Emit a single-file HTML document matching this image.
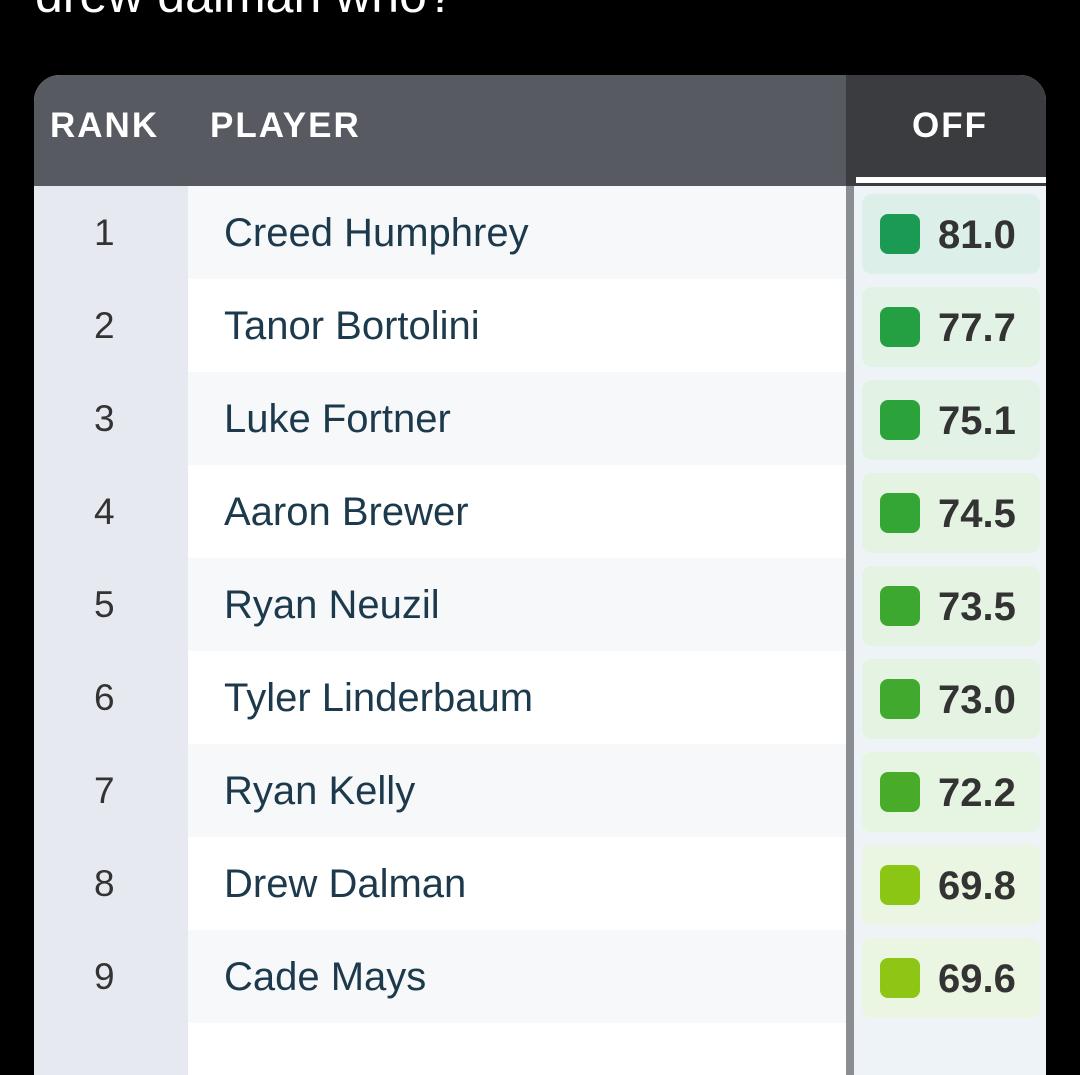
<!DOCTYPE html>
<html><head><meta charset="utf-8"><style>
body{margin:0;width:1080px;height:1024px;background:#000;overflow:hidden;position:relative;font-family:"Liberation Sans",sans-serif}
.t{position:absolute;left:35px;top:-34px;color:#fff;font-size:50px;white-space:nowrap}
.card{position:absolute;left:34px;top:75px;width:1012px;height:1000px;border-radius:26px 26px 0 0;overflow:hidden;background:#fff}
.hd{position:absolute;left:0;top:0;width:812px;height:111px;background:#575a61}
.hd2{position:absolute;left:820px;top:0;width:192px;height:111px;background:#3b3c3f}
.div{position:absolute;left:812px;top:111px;width:8px;height:900px;background:#8a8d92}
.div2{position:absolute;left:812px;top:0;width:8px;height:111px;background:#3b3c3f}
.ul{position:absolute;left:822px;top:102px;width:190px;height:6px;background:#fff}
.h{position:absolute;top:31px;color:#fff;font-weight:bold;font-size:35px;letter-spacing:2px}
.row{position:absolute;left:0;width:812px;height:93px}
.rk{position:absolute;left:0;top:0;width:154px;height:100%;background:#e6e9ef;color:#333;font-size:37px;line-height:93px}
.rk span{position:absolute;left:60px}
.nm{position:absolute;left:190px;top:1px;line-height:93px;font-size:40px;color:#1d3a4c}
.oc{position:absolute;left:820px;top:111px;width:192px;height:900px;background:#eef3f8}
.p{position:absolute;left:828px;width:178px;height:80px;border-radius:10px}
.sq{position:absolute;left:18px;top:20px;width:40px;height:40px;border-radius:8px}
.v{position:absolute;left:76px;top:0;line-height:82px;font-size:40px;font-weight:bold;color:#333}
</style></head><body>
<div class="t">drew dalman who?</div>
<div class="card">
<div class="hd"></div><div class="hd2"></div>
<div class="h" style="left:16px">RANK</div>
<div class="h" style="left:176px">PLAYER</div>
<div class="h" style="left:878px">OFF</div>
<div class="ul"></div>
<div class="oc"></div>
<div class="row" style="top:111px;background:#f6f8fa"><div class="rk"><span>1</span></div><div class="nm">Creed Humphrey</div></div>
<div class="row" style="top:204px;background:#fff"><div class="rk"><span>2</span></div><div class="nm">Tanor Bortolini</div></div>
<div class="row" style="top:297px;background:#f6f8fa"><div class="rk"><span>3</span></div><div class="nm">Luke Fortner</div></div>
<div class="row" style="top:390px;background:#fff"><div class="rk"><span>4</span></div><div class="nm">Aaron Brewer</div></div>
<div class="row" style="top:483px;background:#f6f8fa"><div class="rk"><span>5</span></div><div class="nm">Ryan Neuzil</div></div>
<div class="row" style="top:576px;background:#fff"><div class="rk"><span>6</span></div><div class="nm">Tyler Linderbaum</div></div>
<div class="row" style="top:669px;background:#f6f8fa"><div class="rk"><span>7</span></div><div class="nm">Ryan Kelly</div></div>
<div class="row" style="top:762px;background:#fff"><div class="rk"><span>8</span></div><div class="nm">Drew Dalman</div></div>
<div class="row" style="top:855px;background:#f6f8fa"><div class="rk"><span>9</span></div><div class="nm">Cade Mays</div></div>
<div class="row" style="top:948px;background:#fff"><div class="rk"></div></div>
<div class="p" style="top:119px;background:#dcefe9"><div class="sq" style="background:#1a9a52"></div><div class="v">81.0</div></div>
<div class="p" style="top:212px;background:#e2f2e4"><div class="sq" style="background:#24a043"></div><div class="v">77.7</div></div>
<div class="p" style="top:305px;background:#e2f2e4"><div class="sq" style="background:#2ca33a"></div><div class="v">75.1</div></div>
<div class="p" style="top:398px;background:#e4f3e2"><div class="sq" style="background:#33a635"></div><div class="v">74.5</div></div>
<div class="p" style="top:491px;background:#e4f3e2"><div class="sq" style="background:#3da82f"></div><div class="v">73.5</div></div>
<div class="p" style="top:584px;background:#e5f3e2"><div class="sq" style="background:#40a92e"></div><div class="v">73.0</div></div>
<div class="p" style="top:677px;background:#e6f4e2"><div class="sq" style="background:#48ac2a"></div><div class="v">72.2</div></div>
<div class="p" style="top:770px;background:#eaf5e2"><div class="sq" style="background:#8cc614"></div><div class="v">69.8</div></div>
<div class="p" style="top:863px;background:#eaf5e2"><div class="sq" style="background:#8dc615"></div><div class="v">69.6</div></div>
<div class="div2"></div><div class="div"></div>
</div>
</body></html>
